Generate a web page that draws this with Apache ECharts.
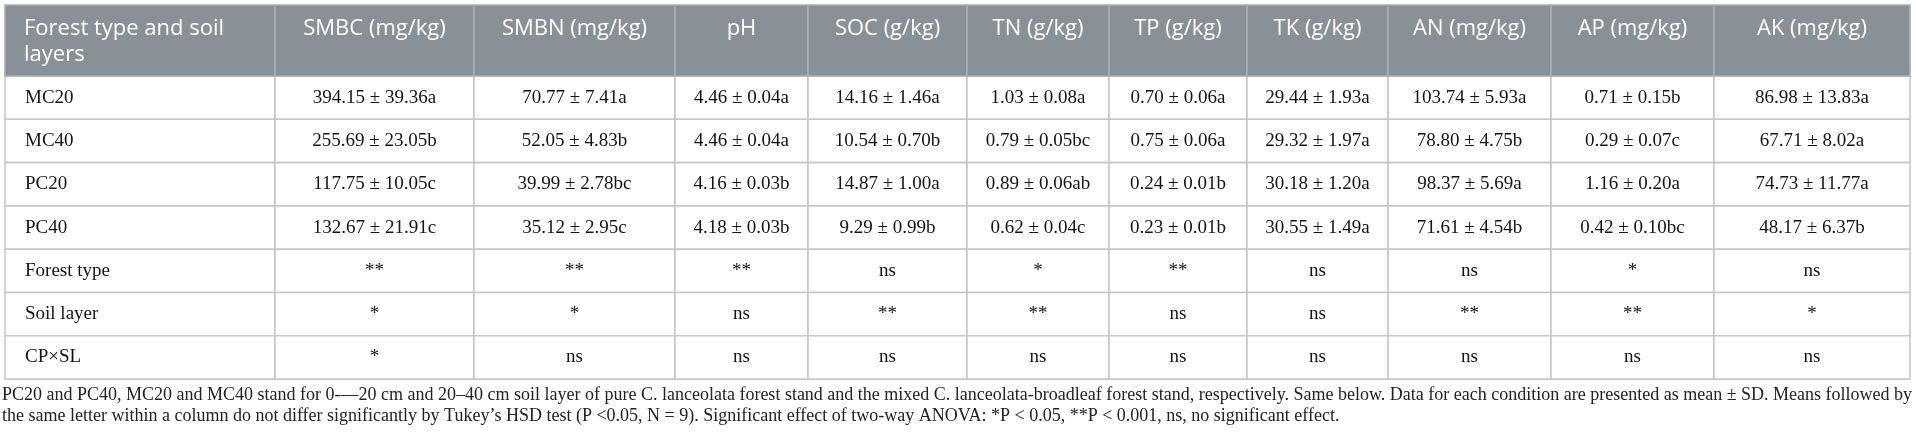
<!DOCTYPE html>
<html>
<head>
<meta charset="utf-8">
<script src="https://cdn.jsdelivr.net/npm/echarts@6/dist/echarts.min.js"></script>
<style>
html,body{margin:0;padding:0;background:#fff;}
#chart{width:1916px;height:438px;}
</style>
</head>
<body>
<div id="chart"></div>
<script>
// ---------- DATA ----------
const columns = ['Forest type and soil layers', 'SMBC (mg/kg)', 'SMBN (mg/kg)', 'pH', 'SOC (g/kg)', 'TN (g/kg)', 'TP (g/kg)', 'TK (g/kg)', 'AN (mg/kg)', 'AP (mg/kg)', 'AK (mg/kg)'];
const treatments = ['MC20', 'MC40', 'PC20', 'PC40'];
const effects = ['Forest type', 'Soil layer', 'CP\u00d7SL'];

// [mean, SD, letters] per treatment (MC20, MC40, PC20, PC40)
const SMBC = [[394.15, 39.36, 'a'], [255.69, 23.05, 'b'], [117.75, 10.05, 'c'], [132.67, 21.91, 'c']];
const SMBN = [[70.77, 7.41, 'a'], [52.05, 4.83, 'b'], [39.99, 2.78, 'bc'], [35.12, 2.95, 'c']];
const pH   = [[4.46, 0.04, 'a'], [4.46, 0.04, 'a'], [4.16, 0.03, 'b'], [4.18, 0.03, 'b']];
const SOC  = [[14.16, 1.46, 'a'], [10.54, 0.70, 'b'], [14.87, 1.00, 'a'], [9.29, 0.99, 'b']];
const TN   = [[1.03, 0.08, 'a'], [0.79, 0.05, 'bc'], [0.89, 0.06, 'ab'], [0.62, 0.04, 'c']];
const TP   = [[0.70, 0.06, 'a'], [0.75, 0.06, 'a'], [0.24, 0.01, 'b'], [0.23, 0.01, 'b']];
const TK   = [[29.44, 1.93, 'a'], [29.32, 1.97, 'a'], [30.18, 1.20, 'a'], [30.55, 1.49, 'a']];
const AN   = [[103.74, 5.93, 'a'], [78.80, 4.75, 'b'], [98.37, 5.69, 'a'], [71.61, 4.54, 'b']];
const AP   = [[0.71, 0.15, 'b'], [0.29, 0.07, 'c'], [1.16, 0.20, 'a'], [0.42, 0.10, 'bc']];
const AK   = [[86.98, 13.83, 'a'], [67.71, 8.02, 'a'], [74.73, 11.77, 'a'], [48.17, 6.37, 'b']];

// two-way ANOVA significance, one entry per variable column
const forestTypeSig  = ['**', '**', '**', 'ns', '*', '**', 'ns', 'ns', '*', 'ns'];
const soilLayerSig   = ['*', '*', 'ns', '**', '**', 'ns', 'ns', '**', '**', '*'];
const interactionSig = ['*', 'ns', 'ns', 'ns', 'ns', 'ns', 'ns', 'ns', 'ns', 'ns'];

const footnoteLines = [
  'PC20 and PC40, MC20 and MC40 stand for 0-\u201420 cm and 20\u201340 cm soil layer of pure C. lanceolata forest stand and the mixed C. lanceolata-broadleaf forest stand, respectively. Same below. Data for each condition are presented as mean \u00b1 SD. Means followed by',
  'the same letter within a column do not differ significantly by Tukey\u2019s HSD test (P <0.05, N = 9). Significant effect of two-way ANOVA: *P < 0.05, **P < 0.001, ns, no significant effect.'
];

// ---------- LAYOUT (not data) ----------
const colWidths = [270, 199, 201, 133, 159, 142, 138, 141, 163, 163, 196];
const headerHeight = 71;
const rowHeight = 43.3;

const variables = [SMBC, SMBN, pH, SOC, TN, TP, TK, AN, AP, AK];
const sigRows = [forestTypeSig, soilLayerSig, interactionSig];

const colStart = [];
colWidths.reduce((acc, w, i) => { colStart[i] = acc; return acc + w; }, 0);
const totalW = colWidths.reduce((a, b) => a + b, 0);
const rowCount = treatments.length + effects.length;
const totalH = headerHeight + rowCount * rowHeight;
function rowTop(r) { return r === 0 ? 0 : headerHeight + (r - 1) * rowHeight; }
function rowH(r) { return r === 0 ? headerHeight : rowHeight; }

// build cells: [col, row, text]
const cells = [];
columns.forEach((c, i) => cells.push([i, 0, c]));
treatments.forEach((t, ti) => {
  cells.push([0, ti + 1, t]);
  variables.forEach((v, vi) => {
    const d = v[ti];
    cells.push([vi + 1, ti + 1, d[0].toFixed(2) + ' \u00b1 ' + d[1].toFixed(2) + d[2]]);
  });
});
effects.forEach((e, ei) => {
  const r = treatments.length + ei + 1;
  cells.push([0, r, e]);
  sigRows[ei].forEach((s, vi) => cells.push([vi + 1, r, s]));
});

const chart = echarts.init(document.getElementById('chart'), null, { renderer: 'canvas' });

function renderItem(params, api) {
  const cell = cells[params.dataIndex];
  const c = cell[0], r = cell[1], text = cell[2];
  const x0 = colStart[c], x1 = x0 + colWidths[c];
  const y0 = rowTop(r), y1 = y0 + rowH(r);
  const p0 = api.coord([x0, y0]);
  const p1 = api.coord([x1, y1]);
  const w = p1[0] - p0[0], h = p1[1] - p0[1];
  const isHeader = r === 0;
  const rect = {
    type: 'rect',
    shape: { x: p0[0], y: p0[1], width: w, height: h },
    style: {
      fill: isHeader ? '#8a9196' : '#ffffff',
      stroke: isHeader ? '#a9aeb1' : '#c8c8c8',
      lineWidth: 1.6
    },
    z2: isHeader ? 1 : 0
  };
  let txt;
  if (isHeader) {
    txt = {
      type: 'text',
      z2: 5,
      style: {
        text: text,
        x: c === 0 ? p0[0] + 19 : p0[0] + w / 2,
        y: p0[1] + 11,
        align: c === 0 ? 'left' : 'center',
        verticalAlign: 'top',
        width: c === 0 ? w - 22 : w - 8,
        overflow: 'break',
        lineHeight: 26,
        fill: '#ffffff',
        fontFamily: '"Open Sans", "Noto Sans", sans-serif',
        fontSize: 22
      }
    };
  } else {
    txt = {
      type: 'text',
      z2: 5,
      style: {
        text: text,
        x: c === 0 ? p0[0] + 20 : p0[0] + w / 2,
        y: p0[1] + h / 2,
        align: c === 0 ? 'left' : 'center',
        verticalAlign: 'middle',
        fill: '#141414',
        fontFamily: '"Liberation Serif", "Times New Roman", serif',
        fontSize: 19
      }
    };
  }
  return { type: 'group', children: [rect, txt] };
}

chart.setOption({
  animation: false,
  backgroundColor: '#ffffff',
  title: {
    text: footnoteLines.join('\n'),
    left: 2,
    top: 385,
    padding: 0,
    textStyle: {
      fontFamily: '"Liberation Serif", "Times New Roman", serif',
      fontSize: 18,
      fontWeight: 'normal',
      lineHeight: 21,
      color: '#222222'
    }
  },
  grid: { left: 5, top: 5, width: totalW, height: totalH, containLabel: false },
  xAxis: { type: 'value', min: 0, max: totalW, show: false },
  yAxis: { type: 'value', min: 0, max: totalH, inverse: true, show: false },
  series: [{
    type: 'custom',
    clip: false,
    renderItem: renderItem,
    encode: { x: 0, y: 1 },
    data: cells.map(c => [colStart[c[0]] + colWidths[c[0]] / 2, rowTop(c[1]) + rowH(c[1]) / 2])
  }]
});
</script>
</body>
</html>
